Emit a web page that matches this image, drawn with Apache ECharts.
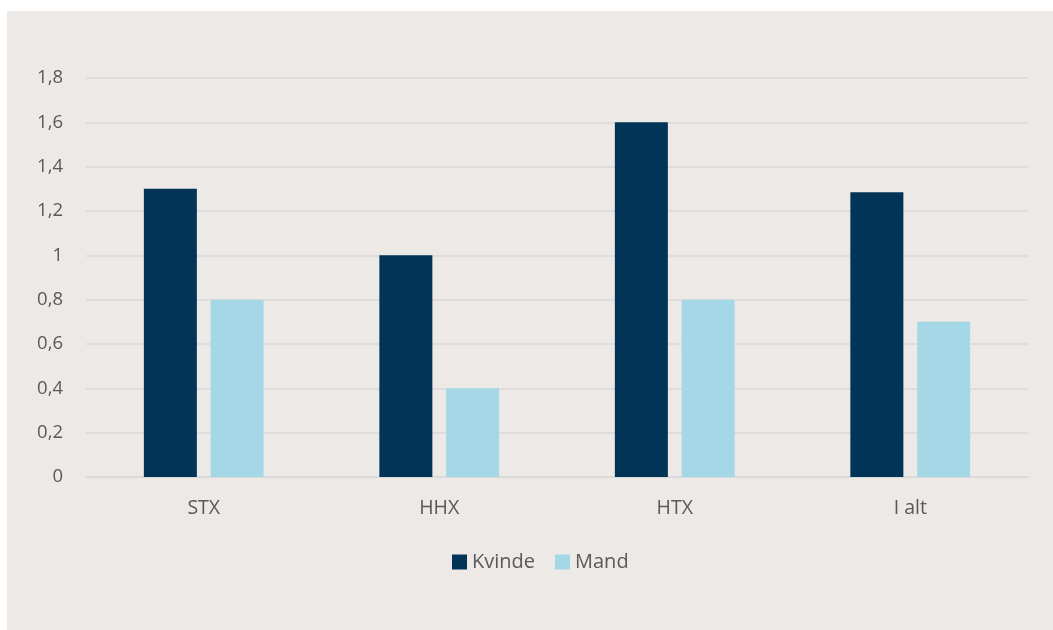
<!DOCTYPE html>
<html>
<head>
<meta charset="utf-8">
<script src="https://cdn.jsdelivr.net/npm/echarts@6/dist/echarts.min.js"></script>
<style>
html,body{margin:0;padding:0;background:#ffffff;}
#c{width:1053px;height:630px;}
</style>
</head>
<body>
<div id="c"></div>
<script>
const categories = ['STX', 'HHX', 'HTX', 'I alt'];
const kvinde = [1.3, 1.0, 1.6, 1.285];
const mand = [0.8, 0.4, 0.8, 0.7];
const seriesNames = ['Kvinde', 'Mand'];

const chart = echarts.init(document.getElementById('c'), null, {renderer: 'canvas'});
const font = '"Open Sans", "Noto Sans", sans-serif';
chart.setOption({
  backgroundColor: '#ffffff',
  animation: false,
  graphic: [{
    type: 'rect', z: -10, silent: true,
    shape: {x: 7, y: 11, width: 1046, height: 619},
    style: {fill: '#EDE9E6'}
  }],
  grid: {left: 86, right: 25, top: 78, bottom: 153, containLabel: false},
  legend: {
    data: seriesNames,
    top: 547,
    left: 447,
    itemWidth: 15, itemHeight: 15, itemGap: 20,
    icon: 'rect',
    textStyle: {fontFamily: font, fontSize: 20, color: '#595959'}
  },
  xAxis: {
    type: 'category',
    data: categories,
    axisLine: {show: true, lineStyle: {color: '#D9D9D9', width: 1.5}},
    axisTick: {show: false},
    axisLabel: {fontFamily: font, fontSize: 19.5, color: '#595959', margin: 21}
  },
  yAxis: {
    type: 'value', min: 0, max: 1.8, interval: 0.2,
    axisLine: {show: false}, axisTick: {show: false},
    splitLine: {lineStyle: {color: '#D9D9D9', width: 1.5}},
    axisLabel: {
      fontFamily: font, fontSize: 18.5, color: '#595959', margin: 23,
      formatter: v => String(Math.round(v * 10) / 10).replace('.', ',')
    }
  },
  series: [
    {name: seriesNames[0], type: 'bar', data: kvinde, barWidth: 53, barGap: '26%', itemStyle: {color: '#013457'}},
    {name: seriesNames[1], type: 'bar', data: mand, barWidth: 53, barGap: '26%', itemStyle: {color: '#A5D8E6'}}
  ]
});
</script>
</body>
</html>
